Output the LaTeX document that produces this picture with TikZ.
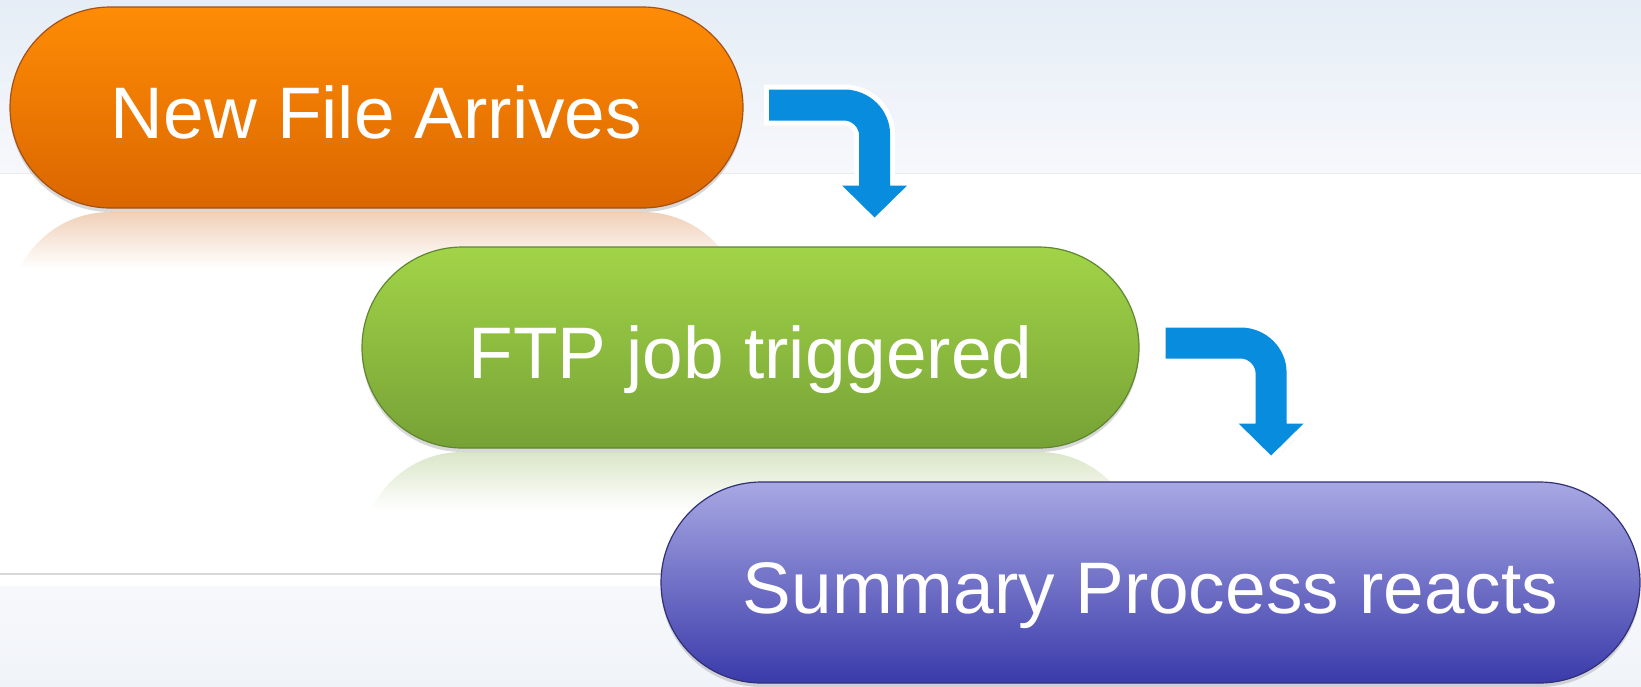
\documentclass[tikz,border=0pt]{standalone}
\usepackage{fontspec}
\setmainfont{Liberation Sans}
\usetikzlibrary{shapes.misc,shadows,calc}
\definecolor{bgtop}{RGB}{229,237,246}
\definecolor{bgmid}{RGB}{247,248,252}
\definecolor{bgbot}{RGB}{240,244,248}
\definecolor{bgline}{RGB}{216,216,216}
\definecolor{ortop}{RGB}{255,140,5}
\definecolor{ormid}{RGB}{246,124,0}
\definecolor{orbot}{RGB}{218,102,0}
\definecolor{orline}{RGB}{165,80,20}
\definecolor{ortint}{RGB}{240,208,184}
\definecolor{grtop}{RGB}{162,212,72}
\definecolor{grmid}{RGB}{142,192,62}
\definecolor{grbot}{RGB}{118,162,54}
\definecolor{grline}{RGB}{96,134,46}
\definecolor{grtint}{RGB}{218,230,200}
\definecolor{bltop}{RGB}{168,168,228}
\definecolor{blmid}{RGB}{112,112,200}
\definecolor{blbot}{RGB}{58,58,170}
\definecolor{blline}{RGB}{48,48,118}
\definecolor{arrowblue}{RGB}{8,140,222}
\newcommand{\myarrowpath}{(0,0) -- (75,0) .. controls (100,0) and (121,20) .. (121,45) -- (121,96)
      -- (138,96) -- (105.5,128) -- (73,96) -- (90,96) -- (90,46)
      .. controls (90,38) and (83,31) .. (75,31) -- (0,31) -- cycle}
\tikzset{
  pill/.style={rounded rectangle, draw=#1line, line width=1.2pt,
    minimum height=201pt, inner sep=0pt, text=white,
    top color=#1top, middle color=#1mid, bottom color=#1bot,
    font=\fontsize{73}{80}\selectfont, text height=61pt, text depth=0pt,
    drop shadow={shadow xshift=0pt, shadow yshift=-4pt, opacity=0.3}},
  bentarrow/.pic={
    \fill[black, opacity=0.15, shift={(3,4)}] \myarrowpath;
    \draw[white, line width=10pt, line join=miter] \myarrowpath;
    \fill[arrowblue] \myarrowpath;
  }
}
\begin{document}
\begin{tikzpicture}[x=1pt,y=-1pt]
\useasboundingbox (0,0) rectangle (1641,686);
% background
\fill[white] (0,0) rectangle (1641,686);
\shade[top color=bgtop, bottom color=bgmid] (0,0) rectangle (1641,173);
\draw[bgmid!60!bgline, line width=0.6pt] (0,173.5) -- (1641,173.5);
\draw[bgline, line width=1.2pt] (0,574) -- (1641,574);
\shade[top color=bgmid, bottom color=bgbot] (0,586) rectangle (1641,686);
% reflections
\begin{scope}
  \clip[rounded corners=100pt] (10,212) rectangle (743,413);
  \shade[top color=ortint, bottom color=white] (10,212) rectangle (743,268);
\end{scope}
\begin{scope}
  \clip[rounded corners=100pt] (362,452) rectangle (1139,653);
  \shade[top color=grtint, bottom color=white] (362,452) rectangle (1139,510);
\end{scope}
% pills
\node[pill=or, minimum width=733pt] (a) at (376.5,107.5) {New File Arrives};
\node[pill=gr, minimum width=777pt] (b) at (750.5,347.5) {FTP job triggered};
\node[pill=bl, minimum width=979pt] (c) at (1150.5,582.5) {Summary Process reacts};
% connectors
\pic at ($(a.east)+(25.5,-18)$) {bentarrow};
\pic at ($(b.east)+(26,-20)$) {bentarrow};
\end{tikzpicture}
\end{document}
